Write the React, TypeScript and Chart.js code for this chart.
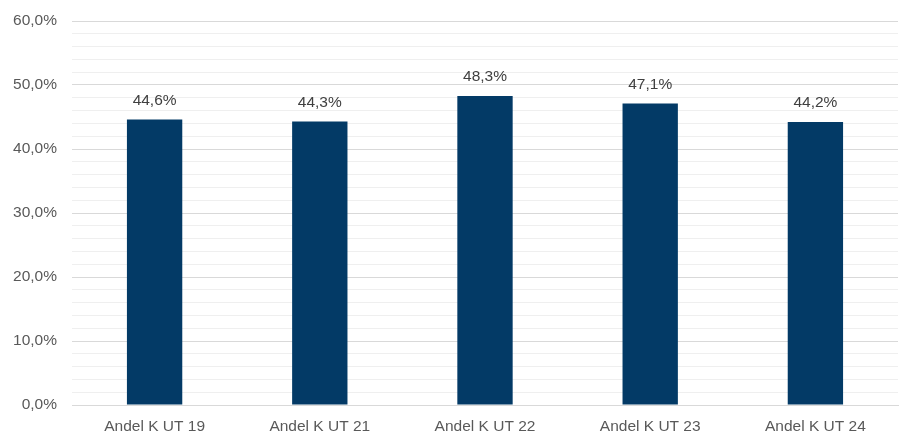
import React, { useEffect, useRef } from "react";
import { Chart, registerables } from "chart.js";

Chart.register(...registerables);

const categories = ["Andel K UT 19", "Andel K UT 21", "Andel K UT 22", "Andel K UT 23", "Andel K UT 24"];
const values = [44.6, 44.3, 48.3, 47.1, 44.2];
const yMin = 0;
const yMax = 60;
const yStep = 2;
const yLabelStep = 10;

const FONT = "'Liberation Sans', Arial, sans-serif";
const FONT_SIZE = 15.5;
const TEXT_COLOR = "#595959";

const fmt = (v: number) => v.toFixed(1).replace(".", ",") + "%";

const labelPlugin = {
  id: "barLabels",
  afterDatasetsDraw(chart: any) {
    const ctx = chart.ctx;
    const meta = chart.getDatasetMeta(0);
    ctx.save();
    ctx.font = `${FONT_SIZE}px ${FONT}`;
    ctx.fillStyle = "#404040";
    ctx.textAlign = "center";
    ctx.textBaseline = "middle";
    meta.data.forEach((el: any, i: number) => {
      ctx.fillText(fmt(values[i]), el.x, el.y - 19);
    });
    ctx.restore();
  },
};

export default function App() {
  const ref = useRef<HTMLCanvasElement>(null);
  useEffect(() => {
    if (!ref.current) return;
    const chart = new Chart(ref.current, {
      type: "bar",
      data: {
        labels: categories,
        datasets: [
          {
            data: values,
            backgroundColor: "#033A66",
            barPercentage: 0.335,
            categoryPercentage: 1,
          },
        ],
      },
      options: {
        animation: false,
        responsive: true,
        maintainAspectRatio: false,
        layout: { padding: { top: 21, right: 1, left: 0, bottom: 0 } },
        plugins: { legend: { display: false }, tooltip: { enabled: false } },
        scales: {
          x: {
            grid: { display: false, drawTicks: false },
            border: { display: true, color: "#d9d9d9", width: 1 },
            ticks: { color: TEXT_COLOR, font: { family: FONT, size: FONT_SIZE }, padding: 12, maxRotation: 0 },
            afterFit: (s: any) => { s.height = 30; },
          },
          y: {
            min: yMin,
            max: yMax,
            border: { display: false },
            grid: {
              drawTicks: false,
              color: (c: any) => (Math.round(c.tick.value) % yLabelStep === 0 ? "#d9d9d9" : "#efefef"),
              lineWidth: 1,
            },
            ticks: {
              stepSize: yStep,
              maxTicksLimit: 100,
              autoSkip: false,
              color: TEXT_COLOR,
              font: { family: FONT, size: FONT_SIZE },
              padding: 15,
              callback: (v: any) => (Math.round(Number(v)) % yLabelStep === 0 ? fmt(Number(v)) : ""),
            },
            afterFit: (s: any) => {
              s.width = 72;
              s.paddingTop = 0;
              s.paddingBottom = 0;
            },
          },
        },
      },
      plugins: [labelPlugin],
    });
    return () => chart.destroy();
  }, []);
  return (
    <div style={{ position: "fixed", left: 0, top: 0, width: 899, height: 435, background: "#fff" }}>
      <canvas ref={ref} />
    </div>
  );
}
